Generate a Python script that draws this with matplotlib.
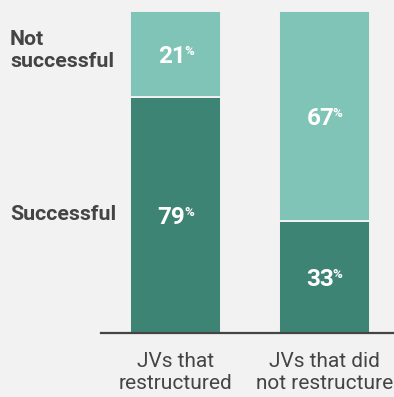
import matplotlib
matplotlib.use("Agg")
import matplotlib.pyplot as plt
import matplotlib.transforms as mtransforms

# ---- data ----
categories = ["JVs that\nrestructured", "JVs that did\nnot restructure"]
successful_pct = [79, 33]
not_successful_pct = [21, 67]
# segment heights as drawn in the reference (share of bar height)
successful_drawn = [73.3, 34.8]
not_successful_drawn = [26.7, 65.2]
row_labels = ["Successful", "Not\nsuccessful"]

BG = "#f2f2f2"
DARK = "#3e8475"
LIGHT = "#7fc4b6"
TXT = "#444444"
FONT = "Roboto"

W, H = 394, 397
fig = plt.figure(figsize=(W / 100, H / 100), dpi=100, facecolor=BG)
ax = fig.add_axes([101 / W, (H - 333) / H, (W - 101) / W, (333 - 11) / H])
ax.set_facecolor(BG)

x = list(range(len(categories)))
bw = 0.612
ax.bar(x, successful_drawn, width=bw, color=DARK, edgecolor=BG, linewidth=1.4)
ax.bar(x, not_successful_drawn, width=bw, bottom=successful_drawn, color=LIGHT,
       edgecolor=BG, linewidth=1.4)

ax.set_xlim(-0.503, 1.467)
ax.set_ylim(0, 100)

for s in ["top", "right", "left"]:
    ax.spines[s].set_visible(False)
ax.spines["bottom"].set_color(TXT)
ax.spines["bottom"].set_linewidth(1.6)
ax.set_yticks([])
ax.set_xticks(x)
ax.set_xticklabels(categories, fontfamily=FONT, fontsize=15, color=TXT,
                   linespacing=1.2)
ax.tick_params(axis="x", length=0, pad=14)

# number labels: digits, then a small superscript % aligned to digit tops
num_size = 17.5
pct_size = 9.5

labels = []
for i in x:
    labels.append((i, successful_drawn[i] / 2, successful_pct[i]))
    labels.append((i, successful_drawn[i] + not_successful_drawn[i] / 2, not_successful_pct[i]))

fig.canvas.draw()
renderer = fig.canvas.get_renderer()
for (xc, yc, val) in labels:
    cap_pt = 0.711 * num_size
    t = ax.text(xc, yc, str(val), ha="right", va="baseline", color="white",
                fontfamily=FONT, fontweight="bold", fontsize=num_size)
    tp = ax.text(xc, yc, "%", ha="left", va="baseline", color="white",
                 fontfamily=FONT, fontweight="bold", fontsize=pct_size)
    wn = t.get_window_extent(renderer).width
    wp = tp.get_window_extent(renderer).width
    gap = -1.5  # px
    total = wn + gap + wp
    dx_num = (wn - total / 2) / fig.dpi
    dy_num = -(cap_pt / 2) / 72
    t.set_transform(ax.transData + mtransforms.ScaledTranslation(dx_num, dy_num, fig.dpi_scale_trans))
    dx_p = (wn + gap - total / 2) / fig.dpi
    dy_p = dy_num + (cap_pt - 0.711 * pct_size) / 72
    tp.set_transform(ax.transData + mtransforms.ScaledTranslation(dx_p, dy_p, fig.dpi_scale_trans))

trans = mtransforms.blended_transform_factory(fig.transFigure, ax.transData)
ax.text(10 / W, successful_drawn[0] / 2, row_labels[0], transform=trans,
        ha="left", va="center", fontfamily=FONT, fontweight="bold",
        fontsize=15.3, color=TXT)
ax.text(10 / W, successful_drawn[0] + not_successful_drawn[0] / 2 + 1.0, row_labels[1],
        transform=trans, ha="left", va="center", fontfamily=FONT,
        fontweight="bold", fontsize=15.3, color=TXT, linespacing=1.22)

fig.savefig("out.png", dpi=100, facecolor=BG)
